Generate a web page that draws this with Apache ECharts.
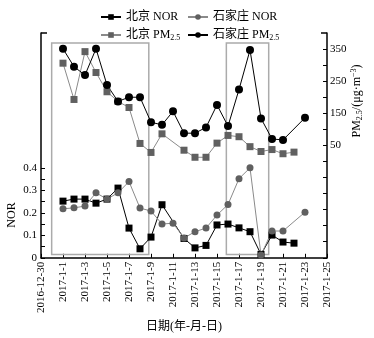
<!DOCTYPE html>
<html>
<head>
<meta charset="utf-8">
<script src="https://cdn.jsdelivr.net/npm/echarts@6/dist/echarts.min.js"></script>
<style>
  html, body { margin: 0; padding: 0; background: #fff; }
  #chart { width: 374px; height: 338px; }
</style>
</head>
<body>
<div id="chart"></div>
<script>
var dates = ['2016-12-30', '2016-12-31', '2017-1-1', '2017-1-2', '2017-1-3', '2017-1-4', '2017-1-5',
  '2017-1-6', '2017-1-7', '2017-1-8', '2017-1-9', '2017-1-10', '2017-1-11', '2017-1-12', '2017-1-13',
  '2017-1-14', '2017-1-15', '2017-1-16', '2017-1-17', '2017-1-18', '2017-1-19', '2017-1-20',
  '2017-1-21', '2017-1-22', '2017-1-23', '2017-1-24', '2017-1-25']

// 北京 / 石家庄 NOR
var bjNor = [null, null, 0.252, 0.261, 0.261, 0.243, 0.261, 0.31, 0.132, 0.04, 0.092, 0.236, null,
  0.086, 0.044, 0.055, 0.146, 0.15, 0.133, 0.116, 0.015, 0.101, 0.07, 0.065, null, null, null]
var sjzNor = [null, null, 0.218, 0.222, 0.23, 0.289, 0.261, 0.289, 0.339, 0.221, 0.208, 0.15, 0.154,
  0.088, 0.116, 0.132, 0.19, 0.237, 0.352, 0.4, 0.012, 0.119, 0.119, null, 0.203, null, null]

// PM2.5
var bjPm = [null, null, 306, 193, 342, 277, 217, 187, 168, 56, 28, 86, null,
  35, 13, 13, 57, 81, 77, 46, 31, 37, 24, 29, null, null, null]
var sjzPm = [null, null, 351, 295, 269, 351, 238, 187, 200, 200, 122, 114, 156,
  88, 88, 106, 176, 110, 224, 347, 134, 70, 67, null, 136, null, null]

var norTicks = [0, 0.05, 0.1, 0.15, 0.2, 0.25, 0.3, 0.35, 0.4]
var norLabels = [0, 0.1, 0.2, 0.3, 0.4]
var pmTicks = [-300, -250, -200, -150, -100, -50, 0, 50, 100, 150, 200, 250, 300, 350]
var pmLabels = [50, 150, 250, 350]

// 灰色框 (日期序号范围)
var spans = [[0.97, 9.8], [16.85, 20.7]]

function pairs (arr) {
  var out = []
  for (var i = 0; i < arr.length; i++) {
    if (arr[i] !== null) out.push([i, arr[i]])
  }
  return out
}

var serif = '"Liberation Serif", "Times New Roman", "Noto Sans CJK SC", serif'
var gray = '#606060'
var lineGray = '#8a8a8a'

var chart = echarts.init(document.getElementById('chart'))

var gl = 41, gt = 33, gw = 286, gh = 226

chart.setOption({
  animation: false,
  textStyle: { fontFamily: serif, color: '#000' },
  grid: { left: gl, top: gt, width: gw, height: gh },
  legend: [{
    orient: 'vertical', left: 95, top: 6, itemGap: 6, itemWidth: 20, itemHeight: 7,
    data: ['北京 NOR', '北京 PM2.5'],
    formatter: function (n) { return n.replace('PM2.5', 'PM{sub|2.5}') },
    textStyle: { fontFamily: serif, fontSize: 12, color: '#000', rich: { sub: { fontSize: 8, padding: [6, 0, 0, 0], fontFamily: serif } } }
  }, {
    orient: 'vertical', left: 182, top: 6, itemGap: 6, itemWidth: 20, itemHeight: 7,
    data: ['石家庄 NOR', '石家庄 PM2.5'],
    formatter: function (n) { return n.replace('PM2.5', 'PM{sub|2.5}') },
    textStyle: { fontFamily: serif, fontSize: 12, color: '#000', rich: { sub: { fontSize: 8, padding: [6, 0, 0, 0], fontFamily: serif } } }
  }],
  xAxis: {
    type: 'value', min: 0, max: 26, interval: 2,
    name: '日期(年-月-日)', nameLocation: 'middle', nameGap: 63,
    nameTextStyle: { fontFamily: serif, fontSize: 12, color: '#000' },
    axisLine: { lineStyle: { color: '#000', width: 1.5 } },
    axisTick: { inside: true, length: 4, lineStyle: { color: '#000' } },
    axisLabel: { rotate: 90, fontSize: 11, color: '#000', margin: 4, formatter: function (v) { return dates[v] } },
    splitLine: { show: false }
  },
  yAxis: [{
    type: 'value', min: 0, max: 1, position: 'left',
    axisLine: { show: true, lineStyle: { color: '#000', width: 1.5 } },
    axisTick: { show: true, inside: true, length: 4, customValues: norTicks, lineStyle: { color: '#000' } },
    axisLabel: { fontSize: 11, color: '#000', margin: 4, customValues: norLabels, formatter: function (v) { return v === 0 ? '0' : v.toFixed(1) } },
    splitLine: { show: false }
  }, {
    type: 'value', min: -300, max: 400, position: 'right',
    axisLine: { show: true, lineStyle: { color: '#000', width: 1.5 } },
    axisTick: { show: true, inside: true, length: 4, customValues: pmTicks, lineStyle: { color: '#000' } },
    axisLabel: { fontSize: 11, color: '#000', margin: 3, customValues: pmLabels },
    splitLine: { show: false }
  }],
  graphic: [
    { type: 'line', shape: { x1: gl, y1: gt, x2: gl + 6, y2: gt }, style: { stroke: '#000', lineWidth: 1.5 } },
    { type: 'line', shape: { x1: gl + gw - 6, y1: gt, x2: gl + gw, y2: gt }, style: { stroke: '#000', lineWidth: 1.5 } },
    {
      type: 'text', x: 12, y: 215, rotation: Math.PI / 2,
      style: { text: 'NOR', font: '12px ' + serif, fill: '#000', align: 'center', verticalAlign: 'middle' }
    },
    {
      type: 'text', x: 357, y: 101, rotation: Math.PI / 2,
      style: {
        text: 'PM{sub|2.5}/(μg·m{sup|−3})', fill: '#000', align: 'center', verticalAlign: 'middle',
        fontFamily: serif, fontSize: 12,
        rich: { sub: { fontSize: 8, padding: [6, 0, 0, 0], fontFamily: serif }, sup: { fontSize: 8, padding: [0, 0, 6, 0], fontFamily: serif } }
      }
    }
  ],
  series: [{
    name: '北京 NOR', type: 'line', yAxisIndex: 0, data: pairs(bjNor),
    symbol: 'rect', symbolSize: 7, itemStyle: { color: '#000' }, lineStyle: { color: '#000', width: 1 },
    markArea: {
      silent: true,
      itemStyle: { color: 'rgba(0,0,0,0)', borderColor: '#ababab', borderWidth: 1.5 },
      data: spans.map(function (s) { return [{ xAxis: s[0], yAxis: 0.015 }, { xAxis: s[1], yAxis: 0.955 }] })
    }
  }, {
    name: '石家庄 NOR', type: 'line', yAxisIndex: 0, data: pairs(sjzNor),
    symbol: 'circle', symbolSize: 7, itemStyle: { color: gray }, lineStyle: { color: lineGray, width: 1 }
  }, {
    name: '北京 PM2.5', type: 'line', yAxisIndex: 1, data: pairs(bjPm),
    symbol: 'rect', symbolSize: 7, itemStyle: { color: gray }, lineStyle: { color: lineGray, width: 1 }
  }, {
    name: '石家庄 PM2.5', type: 'line', yAxisIndex: 1, data: pairs(sjzPm),
    symbol: 'circle', symbolSize: 8, itemStyle: { color: '#000' }, lineStyle: { color: '#000', width: 1 }
  }]
})
</script>
</body>
</html>
